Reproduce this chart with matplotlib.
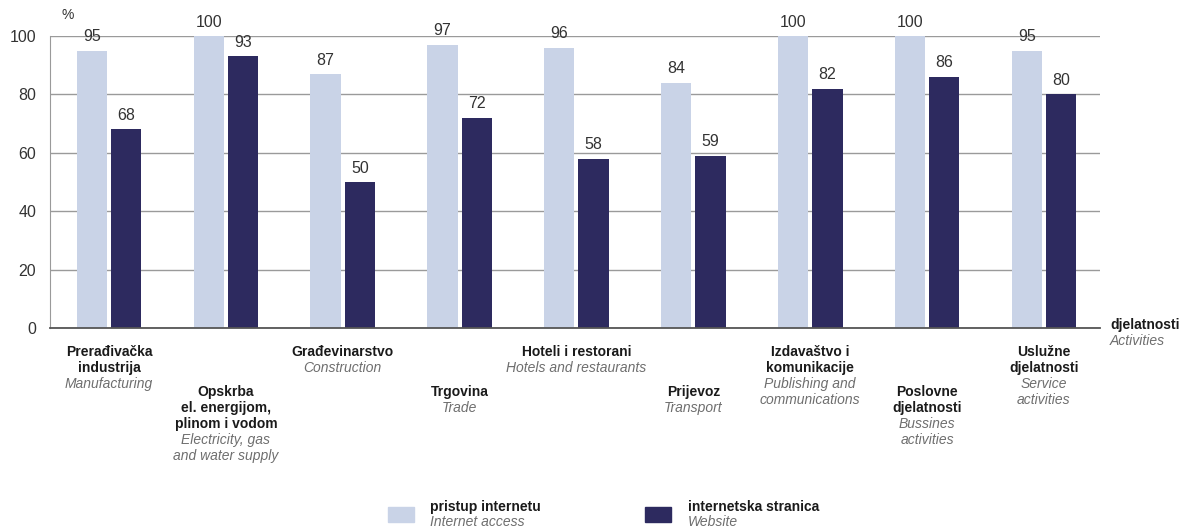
import matplotlib
matplotlib.use('Agg')
import matplotlib.pyplot as plt
from matplotlib.patches import Rectangle

plt.rcParams['font.family'] = ['Liberation Sans Narrow', 'Liberation Sans', 'DejaVu Sans']

# podaci
kategorije_hr = ['Prerađivačka\nindustrija', 'Opskrba\nel. energijom,\nplinom i vodom', 'Građevinarstvo',
                 'Trgovina', 'Hoteli i restorani', 'Prijevoz', 'Izdavaštvo i\nkomunikacije',
                 'Poslovne\ndjelatnosti', 'Uslužne\ndjelatnosti']
kategorije_en = ['Manufacturing', 'Electricity, gas\nand water supply', 'Construction', 'Trade',
                 'Hotels and restaurants', 'Transport', 'Publishing and\ncommunications',
                 'Bussines\nactivities', 'Service\nactivities']
pristup = [95, 100, 87, 97, 96, 84, 100, 100, 95]
stranica = [68, 93, 50, 72, 58, 59, 82, 86, 80]
yticks = [0, 20, 40, 60, 80, 100]

c_light = '#c9d3e7'
c_dark = '#2d2a5f'
c_grey = '#6e6e6e'

W, H = 1185, 532
fig = plt.figure(figsize=(W / 100, H / 100), dpi=100)
ax = fig.add_axes([50 / W, 204 / H, 1050 / W, 292 / H])

x = list(range(len(pristup)))
bw = 0.26
off = 0.147
ax.bar([i - off for i in x], pristup, bw, color=c_light, zorder=2)
ax.bar([i + off for i in x], stranica, bw, color=c_dark, zorder=2)

for i in x:
    ax.text(i - off, pristup[i] + 2.2, str(pristup[i]), ha='center', va='bottom', fontsize=11.5, color='#333333')
    ax.text(i + off, stranica[i] + 2.2, str(stranica[i]), ha='center', va='bottom', fontsize=11.5, color='#333333')

ax.set_xlim(-0.505, 8.48)
ax.set_ylim(0, 100)
ax.set_yticks(yticks)
ax.set_yticklabels([str(v) for v in yticks], fontsize=11.5, color='#333333')
ax.tick_params(axis='y', length=0, pad=10)
ax.set_xticks([])
ax.grid(axis='y', color='#9a9a9a', lw=1, zorder=0)
for s in ['top', 'right']:
    ax.spines[s].set_visible(False)
ax.spines['left'].set_color('#9a9a9a')
ax.spines['bottom'].set_color('#555555')
ax.spines['bottom'].set_linewidth(1.3)

# oznake kategorija (naizmjenično gore / dolje)
lh = 16 / H
for i in x:
    xf = (50 + (i + 0.505) * 1050 / 8.985) / W
    y0 = 1 - (352 if i % 2 == 0 else 392) / H
    k = 0
    for line in kategorije_hr[i].split('\n'):
        fig.text(xf, y0 - k * lh, line, ha='center', va='center', fontsize=10, fontweight='bold', color='#1a1a1a')
        k += 1
    for line in kategorije_en[i].split('\n'):
        fig.text(xf, y0 - k * lh, line, ha='center', va='center', fontsize=10, style='italic', color=c_grey)
        k += 1

fig.text(62 / W, 1 - 15 / H, '%', ha='left', va='center', fontsize=10, color='#333333')
fig.text(1110 / W, 1 - 325 / H, 'djelatnosti', ha='left', va='center', fontsize=10, fontweight='bold', color='#1a1a1a')
fig.text(1110 / W, 1 - 341 / H, 'Activities', ha='left', va='center', fontsize=10, style='italic', color=c_grey)

# legenda
fig.patches.append(Rectangle((388 / W, 1 - 522 / H), 26 / W, 15 / H, transform=fig.transFigure, color=c_light))
fig.patches.append(Rectangle((645 / W, 1 - 522 / H), 26 / W, 15 / H, transform=fig.transFigure, color=c_dark))
fig.text(430 / W, 1 - 507 / H, 'pristup internetu', ha='left', va='center', fontsize=10, fontweight='bold', color='#1a1a1a')
fig.text(430 / W, 1 - 522 / H, 'Internet access', ha='left', va='center', fontsize=10, style='italic', color=c_grey)
fig.text(688 / W, 1 - 507 / H, 'internetska stranica', ha='left', va='center', fontsize=10, fontweight='bold', color='#1a1a1a')
fig.text(688 / W, 1 - 522 / H, 'Website', ha='left', va='center', fontsize=10, style='italic', color=c_grey)

fig.savefig('out.png', dpi=100, facecolor='white')
